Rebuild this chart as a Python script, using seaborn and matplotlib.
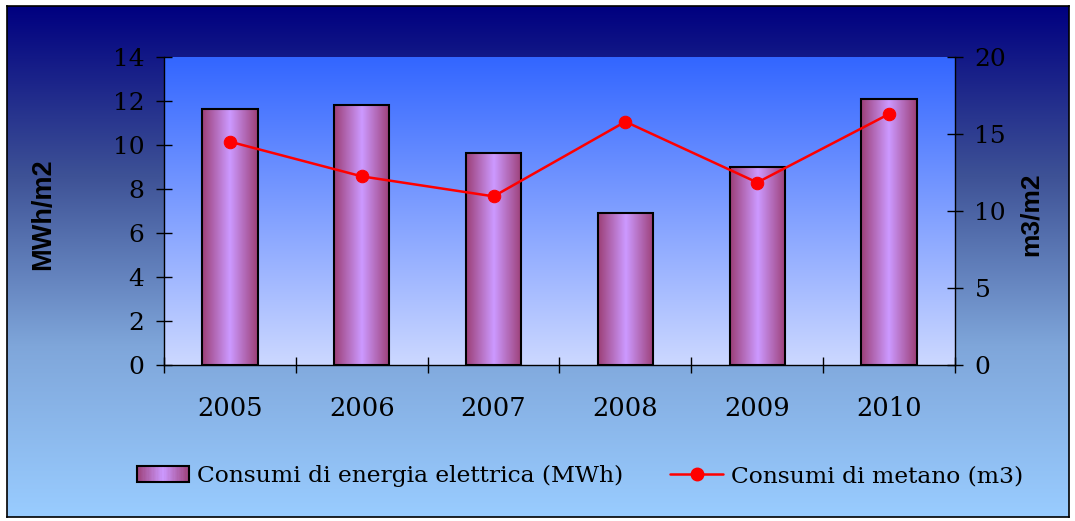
import numpy as np
import matplotlib
matplotlib.use('Agg')
import matplotlib.pyplot as plt
import seaborn as sns
from matplotlib.colors import LinearSegmentedColormap
from matplotlib.legend_handler import HandlerBase
from matplotlib.patches import Rectangle
from matplotlib.lines import Line2D

# ---- data ----
years = ['2005', '2006', '2007', '2008', '2009', '2010']
energia = [11.65, 11.82, 9.65, 6.92, 9.0, 12.08]      # MWh/m2 (left axis)
metano = [14.5, 12.25, 10.95, 15.8, 11.85, 16.3]       # m3/m2 (right axis)
left_ticks = [0, 2, 4, 6, 8, 10, 12, 14]
right_ticks = [0, 5, 10, 15, 20]
label_energia = 'Consumi di energia elettrica (MWh)'
label_metano = 'Consumi di metano (m3)'

sns.set_theme(style='white')
plt.rcParams['font.family'] = ['DejaVu Serif']
for k in ['text.color', 'axes.labelcolor', 'xtick.color', 'ytick.color']:
    plt.rcParams[k] = 'black'

W, H = 1075, 521
fig = plt.figure(figsize=(W / 100, H / 100), dpi=100, facecolor='white')

fig_cmap = LinearSegmentedColormap.from_list('fig', ['#000080', '#3e5296', '#7fa6da', '#99ccff'])
plot_cmap = LinearSegmentedColormap.from_list('plot', ['#3366ff', '#ccd8ff'])
bar_cmap = LinearSegmentedColormap.from_list('bar', ['#9c3f76', '#cc99ff'])

# figure background
bg = fig.add_axes([7 / W, 4 / H, 1062 / W, 511 / H], zorder=-10)
bg.imshow(np.linspace(0, 1, 256).reshape(-1, 1), cmap=fig_cmap, aspect='auto', extent=[0, 1, 0, 1])
bg.set_xticks([]); bg.set_yticks([])
for s in bg.spines.values():
    s.set_color('black'); s.set_linewidth(1.2)

rect = [164 / W, (H - 365) / H, 791 / W, 308 / H]
# plot-area background
pa = fig.add_axes(rect, zorder=-5)
pa.imshow(np.linspace(0, 1, 256).reshape(-1, 1), cmap=plot_cmap, aspect='auto', extent=[0, 1, 0, 1])
pa.axis('off')

ax = fig.add_axes(rect)
ax.patch.set_alpha(0)
sns.barplot(x=years, y=energia, ax=ax, width=0.42, color='#b070c0',
            edgecolor='black', linewidth=1.5, zorder=3)
grad = (1 - np.abs(np.linspace(-1, 1, 200))).reshape(1, -1)
for p in list(ax.patches):
    x0, y0 = p.get_x(), p.get_y()
    w, h = p.get_width(), p.get_height()
    im = ax.imshow(grad, cmap=bar_cmap, extent=[x0, x0 + w, y0, y0 + h], aspect='auto', zorder=2.5)
    im.set_clip_path(p)
    p.set_facecolor('none')
ax.set_xlim(-0.5, len(years) - 0.5)
ax.set_ylim(0, 14)
ax.set_yticks(left_ticks)
ax.set_xticks(range(len(years)))
ax.set_xticklabels(years)
ax.set_xticks(np.arange(-0.5, len(years), 1), minor=True)
ax.tick_params(axis='y', direction='inout', length=12, width=1, color='black',
               labelsize=18, pad=8.0, left=True)
ax.tick_params(axis='x', which='major', length=0, labelsize=18.5, pad=22)
ax.tick_params(axis='x', which='minor', direction='inout', length=11.5, width=1, color='black', bottom=True)
for s in ['top', 'right']:
    ax.spines[s].set_visible(False)
for s in ['left', 'bottom']:
    ax.spines[s].set_color('black'); ax.spines[s].set_linewidth(1)
ax.grid(False)
ax.set_xlabel('')
ax.set_ylabel('MWh/m2', family=['Liberation Sans', 'DejaVu Sans'], fontweight='bold', fontsize=19.5)
ax.yaxis.set_label_coords(-0.136, 0.49)

ax2 = ax.twinx()
sns.lineplot(x=np.arange(len(years)), y=metano, ax=ax2, color='#ff0000', marker='o',
             markersize=9, markeredgecolor='#ff0000', linewidth=1.8, zorder=5)
ax2.set_ylim(0, 20)
ax2.set_yticks(right_ticks)
ax2.tick_params(axis='y', direction='inout', length=12, width=1, color='black',
                labelsize=18, pad=8.0, right=True)
for s in ['top', 'left', 'bottom']:
    ax2.spines[s].set_visible(False)
ax2.spines['right'].set_color('black'); ax2.spines['right'].set_linewidth(1)
ax2.grid(False)
ax2.set_ylabel('m3/m2', family=['Liberation Sans', 'DejaVu Sans'], fontweight='bold', fontsize=19)
ax2.yaxis.set_label_coords(1.080, 0.49)


class GradHandler(HandlerBase):
    def create_artists(self, legend, orig_handle, xdescent, ydescent, width, height, fontsize, trans):
        arts = []
        n = 40
        for i in range(n):
            t = 1 - abs((i + 0.5) / n * 2 - 1)
            arts.append(Rectangle((-xdescent + width * i / n, -ydescent), width / n * 1.1, height,
                                  facecolor=bar_cmap(t), edgecolor='none', transform=trans))
        arts.append(Rectangle((-xdescent, -ydescent), width, height, facecolor='none',
                              edgecolor='black', linewidth=1.5, transform=trans))
        return arts


bar_handle = Rectangle((0, 0), 1, 1)
line_handle = Line2D([], [], color='#ff0000', marker='o', markersize=9, linewidth=1.8)
fig.legend([bar_handle, line_handle], [label_energia, label_metano],
           handler_map={bar_handle: GradHandler()}, loc='center',
           bbox_to_anchor=(580 / W, 1 - 476 / H), ncol=2, frameon=False, fontsize=16.8,
           handlelength=2.25, handleheight=0.65, handletextpad=0.35, columnspacing=2.0, numpoints=1)

fig.savefig('out.png', dpi=100, facecolor='white')
